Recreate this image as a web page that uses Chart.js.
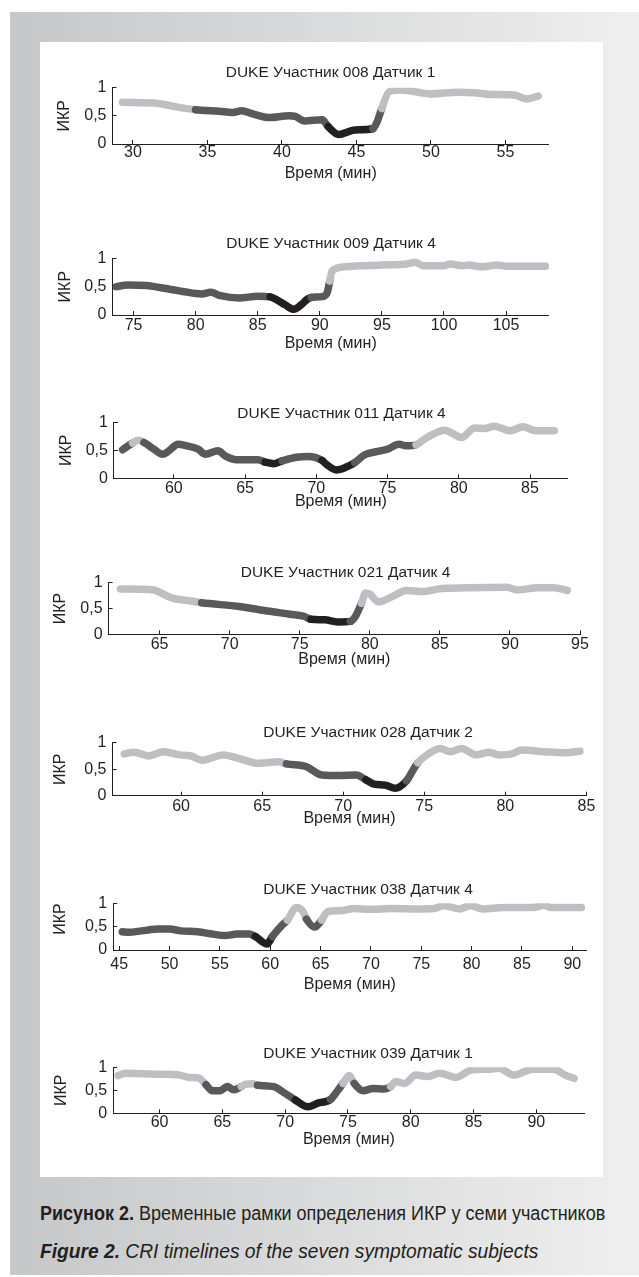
<!DOCTYPE html>
<html><head><meta charset="utf-8">
<script src="https://cdn.jsdelivr.net/npm/chart.js@4.4.1/dist/chart.umd.min.js"></script>
<style>
html,body{margin:0;padding:0;width:639px;height:1277px;overflow:hidden;background:#fff;}
#bg{position:absolute;left:10px;top:12px;width:629px;height:1263px;background:linear-gradient(to right,#c6c7c9,#efefef);}
#panel{position:absolute;left:40px;top:42px;width:563px;height:1135px;background:#fff;}
canvas{position:absolute;}
.cap{position:absolute;left:40px;white-space:nowrap;font-family:"Liberation Sans",Arial,sans-serif;font-size:20px;line-height:24px;color:#231f20;transform-origin:0 50%;}
</style></head><body>
<div id="bg"></div><div id="panel"></div>
<div class="cap" style="top:1201px;transform:scaleX(0.9)"><b>Рисунок 2.</b> Временные рамки определения ИКР у семи участников</div>
<div class="cap" style="top:1239px;transform:scaleX(0.96)"><b><i>Figure 2.</i></b> <i>CRI timelines of the seven symptomatic subjects</i></div>
<script>
// ---------- data ----------
const chartTitles = [
  'DUKE Участник 008 Датчик 1',
  'DUKE Участник 009 Датчик 4',
  'DUKE Участник 011 Датчик 4',
  'DUKE Участник 021 Датчик 4',
  'DUKE Участник 028 Датчик 2',
  'DUKE Участник 038 Датчик 4',
  'DUKE Участник 039 Датчик 1'
];
const xAxisTitle = 'Время (мин)';
const yAxisTitle = 'ИКР';
const yTickValues = [0, 0.5, 1];
const yTickLabels = ['0', '0,5', '1'];

const time008 = [29.3,31.7,32.9,34.2,35.8,36.7,37.3,38.1,39.1,40.5,40.9,41.5,42.7,43.1,43.8,44.9,46.1,46.4,46.7,47.2,48.0,50.0,51.8,52.9,54.0,55.6,56.4,57.2];
const cri008  = [0.74,0.72,0.66,0.61,0.58,0.56,0.59,0.53,0.47,0.50,0.49,0.41,0.43,0.31,0.17,0.25,0.27,0.40,0.63,0.93,0.96,0.89,0.92,0.91,0.88,0.87,0.80,0.85];
const xTicks008 = [30,35,40,45,50,55];

const time009 = [73.6,74.5,76.0,78.0,80.0,80.5,81.2,82.0,83.5,85.0,86.0,86.5,87.2,87.9,88.5,89.0,89.3,90.3,90.6,90.8,91.0,92.0,95.0,97.0,97.7,98.3,100.0,100.5,101.5,102.0,103.0,104.3,105.0,108.2];
const cri009  = [0.50,0.53,0.52,0.45,0.38,0.37,0.40,0.34,0.30,0.33,0.32,0.27,0.18,0.10,0.18,0.28,0.31,0.33,0.40,0.60,0.78,0.85,0.88,0.90,0.93,0.87,0.87,0.90,0.87,0.88,0.85,0.88,0.86,0.86];
const xTicks009 = [75,80,85,90,95,100,105];

const time011 = [56.4,57.1,57.5,57.9,58.6,59.2,59.6,60.3,60.9,61.7,62.2,63.1,63.6,64.4,65.9,66.4,67.0,67.6,68.6,69.4,70.4,70.7,71.4,72.1,72.7,73.4,74.3,75.0,75.8,76.3,77.0,77.6,78.2,79.0,80.2,81.1,81.8,82.5,83.6,84.5,85.4,86.7];
const cri011  = [0.51,0.63,0.68,0.64,0.52,0.43,0.48,0.61,0.58,0.52,0.43,0.49,0.40,0.33,0.33,0.29,0.26,0.31,0.375,0.39,0.32,0.25,0.15,0.20,0.28,0.42,0.48,0.52,0.61,0.58,0.60,0.70,0.79,0.86,0.73,0.90,0.89,0.93,0.85,0.92,0.85,0.85];
const xTicks011 = [60,65,70,75,80,85];

const time021 = [62.2,64.6,65.1,65.9,67.1,68.0,70.7,72.7,74.3,75.3,75.8,76.8,77.7,78.6,79.0,79.4,79.7,80.0,80.6,81.6,82.6,83.9,84.9,86.9,89.8,90.5,92.0,93.1,94.1];
const cri021  = [0.88,0.86,0.80,0.70,0.65,0.61,0.54,0.45,0.39,0.35,0.29,0.28,0.24,0.25,0.36,0.60,0.80,0.78,0.63,0.73,0.85,0.83,0.88,0.90,0.91,0.86,0.90,0.90,0.85];
const xTicks021 = [65,70,75,80,85,90,95];

const time028 = [56.5,57.1,58.0,58.9,59.9,60.6,61.3,62.6,63.7,64.8,66.0,66.5,67.7,68.7,69.7,70.8,71.4,71.9,72.6,73.2,73.9,74.3,74.6,75.3,76.0,76.6,77.3,78.2,79.0,79.6,80.4,81.0,82.4,83.7,84.6];
const cri028  = [0.79,0.82,0.75,0.83,0.77,0.75,0.67,0.77,0.69,0.61,0.64,0.60,0.55,0.39,0.38,0.39,0.30,0.22,0.20,0.14,0.28,0.48,0.62,0.80,0.89,0.83,0.89,0.77,0.82,0.77,0.79,0.86,0.83,0.81,0.84];
const xTicks028 = [60,65,70,75,80,85];

const time038 = [45.3,46.0,47.9,48.8,50.0,51.1,52.8,54.3,55.5,56.7,57.9,58.5,59.7,60.2,61.2,61.7,62.6,63.2,63.6,64.4,65.1,65.7,66.9,68.4,69.8,72.1,74.6,76.3,77.2,78.8,79.9,81.1,83.2,86.1,87.2,87.9,90.9];
const cri038  = [0.39,0.38,0.43,0.45,0.45,0.41,0.39,0.34,0.31,0.34,0.34,0.29,0.13,0.29,0.54,0.64,0.91,0.84,0.66,0.49,0.64,0.82,0.84,0.89,0.87,0.89,0.88,0.89,0.95,0.88,0.95,0.88,0.91,0.91,0.96,0.91,0.91];
const xTicks038 = [45,50,55,60,65,70,75,80,85,90];

const time039 = [56.7,57.3,59.9,61.6,62.4,63.1,63.7,64.2,64.8,65.4,65.9,66.5,66.8,67.4,67.8,69.1,69.9,70.8,71.8,72.6,73.6,74.2,74.6,75.1,75.5,76.2,77.0,77.9,78.4,78.8,79.5,80.4,81.3,82.3,83.6,84.8,86.3,87.0,88.2,89.7,91.4,92.3,93.0];
const cri039  = [0.82,0.87,0.85,0.83,0.78,0.77,0.62,0.49,0.49,0.58,0.51,0.58,0.63,0.64,0.61,0.58,0.45,0.29,0.14,0.22,0.30,0.50,0.65,0.82,0.65,0.49,0.54,0.53,0.58,0.69,0.65,0.83,0.80,0.87,0.78,0.94,0.96,0.98,0.83,0.96,0.96,0.83,0.76];
const xTicks039 = [60,65,70,75,80,85,90];

const xMins = [28.63, 73.3, 55.79, 61.36, 55.77, 44.4, 56.31];
const xMaxs = [57.92, 108.45, 87.66, 95, 85, 91.4, 93.84];

const seriesTimes = [time008, time009, time011, time021, time028, time038, time039];
const seriesCri   = [cri008, cri009, cri011, cri021, cri028, cri038, cri039];
const seriesTicks = [xTicks008, xTicks009, xTicks011, xTicks021, xTicks028, xTicks038, xTicks039];

// ---------- layout / style ----------
const frames = [
  {ax:112.5, end:548.9, top:87.7,  bot:144,    ty:72.3,  tky:153,    xly:173.3, tcx:330.7, ylx:65},
  {ax:112.5, end:548.9, top:258.3, bot:315,    ty:243.3, tky:326,    xly:343.3, tcx:331,   ylx:65.7},
  {ax:113.9, end:567.9, top:422.3, bot:478.3,  ty:413.3, tky:488.3,  xly:501.7, tcx:341.4, ylx:66.8},
  {ax:108.6, end:580,   top:582.7, bot:634.3,  ty:572.7, tky:645,    xly:660,   tcx:345.4, ylx:61},
  {ax:112.5, end:586.4, top:742.7, bot:795.7,  ty:732.3, tky:806.7,  xly:818.3, tcx:368,   ylx:61},
  {ax:113.2, end:586.4, top:903.3, bot:950,    ty:890,   tky:964.3,  xly:985,   tcx:368,   ylx:61, yAlign:'end'},
  {ax:113.2, end:584.6, top:1067.3,bot:1113.3, ty:1054,  tky:1122.7, xly:1140,  tcx:368,   ylx:61.4}
];
const FONT = '"Liberation Sans", Arial, sans-serif';
const TXT = '#231f20';
const LIGHT = '#bebfc2', DARK = '#58595b', BLACK = '#231f20';
const fT = 15.5, fTick = 16, fLab = 16, LH = 1.2;

function zoneColor(ctx) {
  const m = (ctx.p0.parsed.y + ctx.p1.parsed.y) / 2;
  return m >= 0.6 ? LIGHT : (m >= 0.3 ? DARK : BLACK);
}

frames.forEach((f, i) => {
  const cTop = Math.round(f.ty - 14);
  const cBot = Math.round(Math.max(f.xly, f.tky) + 16);
  const H = cBot - cTop;
  const W = Math.round(2 * (f.tcx - 40));
  const cv = document.createElement('canvas');
  cv.width = W; cv.height = H;
  cv.style.left = '40px'; cv.style.top = cTop + 'px';
  cv.style.width = W + 'px'; cv.style.height = H + 'px';
  document.body.appendChild(cv);

  const lhT = fT * LH, lhTick = fTick * LH, lhL = fLab * LH;
  const tpt = f.ty - lhT / 2 - cTop;
  const tpb = (f.top - cTop) - tpt - lhT;
  const rightGap = 40 + W - f.end;
  const times = seriesTimes[i], cri = seriesCri[i], ticks = seriesTicks[i];

  new Chart(cv, {
    type: 'line',
    data: { datasets: [{
      data: times.map((t, k) => ({x: t, y: cri[k]})),
      borderWidth: 7.5, borderCapStyle: 'round', borderJoinStyle: 'round',
      borderColor: LIGHT, pointRadius: 0, fill: false,
      tension: 0.4, cubicInterpolationMode: 'monotone',
      segment: { borderColor: zoneColor }
    }]},
    options: {
      responsive: false, animation: false, devicePixelRatio: 1, events: [],
      layout: { padding: 0 },
      plugins: {
        legend: { display: false }, tooltip: { enabled: false },
        title: { display: true, text: chartTitles[i], color: TXT,
          font: { family: FONT, size: fT, weight: 'normal', lineHeight: LH },
          padding: { top: tpt, bottom: tpb } }
      },
      scales: {
        x: {
          type: 'linear', position: 'bottom', min: xMins[i], max: xMaxs[i],
          afterBuildTicks: s => { s.ticks = ticks.map(v => ({value: v})); },
          afterFit: s => { s.height = cBot - f.bot; },
          ticks: { color: TXT, font: { family: FONT, size: fTick, lineHeight: LH },
            padding: f.tky - f.bot + 4 - lhTick / 2, maxRotation: 0, autoSkip: false,
            callback: v => String(v) },
          grid: { display: true, drawOnChartArea: false, drawTicks: true, tickLength: -4, color: TXT, lineWidth: 1 },
          border: { display: true, color: TXT, width: 1 },
          title: { display: true, text: xAxisTitle, color: TXT,
            font: { family: FONT, size: fLab, lineHeight: LH },
            padding: { top: 0, bottom: cBot - f.xly - lhL / 2 } }
        },
        y: {
          type: 'linear', position: 'left', min: 0, max: 1,
          afterBuildTicks: s => { s.ticks = yTickValues.map(v => ({value: v})); },
          afterFit: s => { s.width = f.ax - 40; },
          ticks: { color: TXT, font: { family: FONT, size: fTick, lineHeight: LH }, padding: 10,
            callback: (v, idx) => yTickLabels[idx] },
          grid: { display: true, drawOnChartArea: false, drawTicks: true, tickLength: -4, color: TXT, lineWidth: 1 },
          border: { display: true, color: TXT, width: 1 },
          title: { display: true, text: yAxisTitle, color: TXT, align: f.yAlign || 'center',
            font: { family: FONT, size: fLab, lineHeight: LH },
            padding: { top: f.ylx - 40 - lhL / 2, bottom: 0 } }
        },
        gap: {
          type: 'linear', position: 'right', display: true,
          afterFit: s => { s.width = rightGap; },
          ticks: { display: false },
          grid: { display: false, drawTicks: false },
          border: { display: false },
          title: { display: false }
        }
      }
    }
  });
});
</script>
</body></html>
